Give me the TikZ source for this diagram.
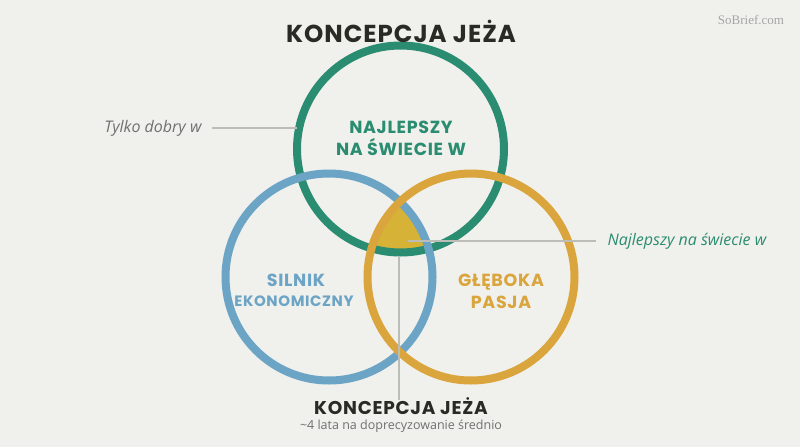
\documentclass[tikz,border=0pt]{standalone}
\usepackage{fontspec}
\setmainfont{Open Sans}
\newfontfamily\headfont{Poppins}[UprightFont=* Bold, LetterSpace=4]
\newfontfamily\markfont{Liberation Serif}
\definecolor{bgc}{HTML}{F0F0EC}
\definecolor{gc}{HTML}{2A8C70}
\definecolor{bc}{HTML}{6CA4C6}
\definecolor{oc}{HTML}{DAA53C}
\definecolor{fc}{HTML}{D6B236}
\definecolor{tc}{HTML}{2A2A24}
\definecolor{lc}{HTML}{BDBDB8}
\definecolor{sc}{HTML}{707070}
\begin{document}
\begin{tikzpicture}[x=1pt,y=-1pt,
  ring/.style={line width=8pt},
  lead/.style={draw=lc,line width=1.1pt},
  head/.style={font=\headfont, text=tc},
  lab/.style={font=\headfont, align=center, inner sep=0pt}]
\fill[bgc] (0,0) rectangle (800,447);
\useasboundingbox (0,0) rectangle (800,447);
\coordinate (G) at (400.5,149);
\coordinate (B) at (329,277);
\coordinate (O) at (471,277);
\def\R{103.5}
% triple intersection
\begin{scope}
  \clip (G) circle (\R);
  \clip (B) circle (\R);
  \fill[fc] (O) circle (\R);
\end{scope}
\draw[ring,gc] (G) circle (\R);
\draw[ring,bc] (B) circle (\R);
\draw[ring,oc] (O) circle (\R);
% texts
\node[head, font=\headfont\fontsize{24.5}{27}\selectfont] (title) at (401,31) {KONCEPCJA JEŻA};
\node[font=\markfont\fontsize{13}{15}\selectfont, text=black!35] (mark) at (751,20) {SoBrief.com};
\node[lab, text=gc, font=\headfont\fontsize{17.5}{21}\selectfont] (gl) at (401,138) {NAJLEPSZY\\[1pt]NA ŚWIECIE W};
\node[lab, text=bc, font=\headfont\fontsize{17.5}{20}\selectfont] (bl1) at (296,280) {SILNIK};
\node[lab, text=bc, font=\headfont\fontsize{15}{17}\selectfont] (bl2) at (294,301) {EKONOMICZNY};
\node[lab, text=oc, font=\headfont\fontsize{17.5}{21}\selectfont] (ol) at (501,291) {GŁĘBOKA\\[1pt]PASJA};
\node[font=\itshape\fontsize{16}{19}\selectfont, text=sc, anchor=east] (tl) at (205,128) {Tylko dobry w};
\node[font=\itshape\fontsize{16}{19}\selectfont, text=gc, anchor=west] (nl) at (604,241) {Najlepszy na świecie w};
\node[head, font=\headfont\fontsize{18.5}{21}\selectfont] (bt) at (401,406) {KONCEPCJA JEŻA};
\node[font=\fontsize{12.5}{15}\selectfont, text=sc] (bs) at (401,426) {\textasciitilde4 lata na doprecyzowanie średnio};
% leaders
\coordinate (gl1) at (297,128);
\coordinate (c1) at (408,241);
\coordinate (c2) at (399,256);
\draw[lead] (tl.east)+(7,0) -- (gl1);
\draw[lead] (c1) -- ([xshift=-8pt]nl.west);
\draw[lead] (c2) -- ([yshift=-6pt]bt.north -| c2);
\end{tikzpicture}
\end{document}
